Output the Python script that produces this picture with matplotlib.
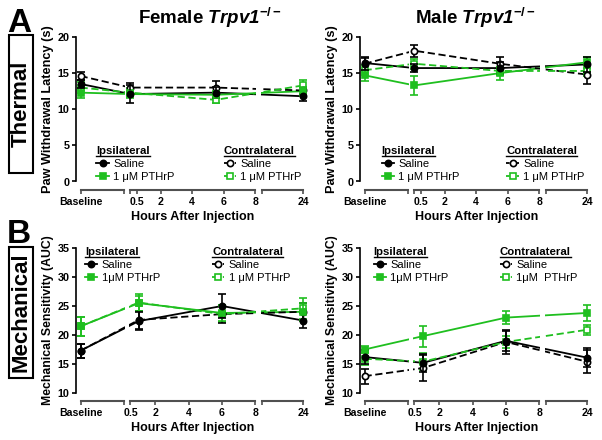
import matplotlib
matplotlib.use('Agg')
import matplotlib.pyplot as plt
from matplotlib.lines import Line2D
from matplotlib.patches import Rectangle
from matplotlib.spines import Spine
from matplotlib.legend import Legend

plt.rcParams['font.family'] = ['Liberation Sans', 'DejaVu Sans']
plt.rcParams['mathtext.fontset'] = 'custom'
plt.rcParams['mathtext.rm'] = 'Liberation Sans:bold'
plt.rcParams['mathtext.bf'] = 'Liberation Sans:bold'
plt.rcParams['mathtext.it'] = 'Liberation Sans:italic:bold'
plt.rcParams['mathtext.bfit'] = 'Liberation Sans:italic:bold'

GREEN = '#1fbf1f'
AXGREY = '#505050'

# time points (h) after injection, besides Baseline and 24 h
thermal_hours = [0.1, 5.5]
mech_hours = [1, 6]
hour_ticks = [0.5, 2, 4, 6, 8]

# Thermal: paw withdrawal latency (s), mean and SEM
# order: Baseline, early, ~6 h, 24 h
f_th_ipsi_sal = [13.5, 12.1, 12.3, 11.8]
f_th_ipsi_sal_e = [0.6, 1.2, 0.8, 0.7]
f_th_ipsi_pth = [12.3, 12.1, 12.0, 12.5]
f_th_ipsi_pth_e = [0.7, 0.6, 0.5, 0.6]
f_th_con_sal = [14.6, 13.0, 13.0, 12.6]
f_th_con_sal_e = [0.5, 0.6, 0.9, 0.5]
f_th_con_pth = [13.0, 12.3, 11.3, 13.3]
f_th_con_pth_e = [0.8, 0.6, 0.5, 0.8]

m_th_ipsi_sal = [16.4, 15.7, 15.7, 16.2]
m_th_ipsi_sal_e = [0.9, 0.6, 0.8, 1.0]
m_th_ipsi_pth = [14.7, 13.3, 15.0, 16.5]
m_th_ipsi_pth_e = [0.8, 1.3, 0.9, 0.8]
m_th_con_sal = [16.3, 18.1, 16.3, 14.8]
m_th_con_sal_e = [0.8, 0.8, 0.9, 1.3]
m_th_con_pth = [15.4, 16.3, 15.3, 15.3]
m_th_con_pth_e = [0.7, 0.7, 0.6, 0.7]

# Mechanical sensitivity (AUC)
f_me_ipsi_sal = [17.3, 22.4, 25.0, 22.5]
f_me_ipsi_sal_e = [1.2, 1.6, 2.0, 1.3]
f_me_ipsi_pth = [21.5, 25.5, 23.8, 24.0]
f_me_ipsi_pth_e = [1.6, 1.3, 1.3, 1.6]
f_me_con_sal = [17.3, 22.6, 23.6, 24.0]
f_me_con_sal_e = [1.2, 1.5, 1.5, 1.5]
f_me_con_pth = [21.5, 25.6, 23.6, 24.6]
f_me_con_pth_e = [1.6, 1.4, 1.4, 1.8]

m_me_ipsi_sal = [16.2, 15.2, 19.0, 16.1]
m_me_ipsi_sal_e = [1.2, 1.5, 1.7, 1.6]
m_me_ipsi_pth = [17.5, 19.8, 23.0, 23.8]
m_me_ipsi_pth_e = [0.6, 1.8, 1.1, 1.3]
m_me_con_sal = [12.9, 14.3, 18.8, 15.4]
m_me_con_sal_e = [1.3, 2.2, 2.0, 2.0]
m_me_con_pth = [15.9, 15.4, 18.8, 20.9]
m_me_con_pth_e = [1.1, 1.5, 1.0, 0.9]

# broken x axis: Baseline | hours | 24
SEG_BASE = (2, 21)
SEG_MID = (24, 79)
SEG_24 = (82, 100)


def xpos(t, h0):
    if t == 'Baseline':
        return SEG_BASE[0]
    if t == 24:
        return SEG_24[1]
    return SEG_MID[0] + (t - h0) / (8 - h0) * (SEG_MID[1] - SEG_MID[0])


STYLES = [  # ipsi saline, ipsi PTHrP, contra saline, contra PTHrP
    dict(color='black', marker='o', ls='-', mfc='black', z=4.6),
    dict(color=GREEN, marker='s', ls='-', mfc=GREEN, z=4.5),
    dict(color='black', marker='o', ls='--', mfc='white', z=4.1),
    dict(color=GREEN, marker='s', ls='--', mfc='white', z=4.0),
]

fig = plt.figure(figsize=(6.02, 4.40), dpi=100)

legends = []


def panel(rect, series, hours, h0, ylim, yticks, ylabel, ylsize, ipsi_lab, con_lab, leg_x, leg_y):
    ax = fig.add_axes(rect)
    t_all = ['Baseline'] + hours + [24]
    xs = [xpos(t, h0) for t in t_all]
    for (vals, err), st in zip(series, STYLES):
        ax.plot(xs, vals, color=st['color'], ls=st['ls'], lw=1.3, zorder=2,
                dashes=(4, 2) if st['ls'] == '--' else (None, None), clip_on=False)
        eb = ax.errorbar(xs, vals, yerr=err, fmt=st['marker'], color=st['color'],
                         mfc=st['mfc'], mec=st['color'], mew=1.2, ms=4.5,
                         capsize=2.8, elinewidth=1.2, capthick=1.2, zorder=st['z'])
        for art in [eb.lines[0], *eb.lines[1], *eb.lines[2]]:
            art.set_clip_on(False)
    # gaps in the lines at the axis breaks
    ax.axvspan(SEG_BASE[1] + 0.4, SEG_MID[0] - 0.8, color='white', lw=0, zorder=3)
    ax.axvspan(SEG_MID[1] + 0.4, SEG_24[0] - 0.4, color='white', lw=0, zorder=3)

    ax.set_xlim(0, 100)
    ax.set_ylim(*ylim)
    ax.set_yticks(yticks)
    for s in ['top', 'right']:
        ax.spines[s].set_visible(False)
    ax.spines['left'].set_linewidth(1.2)
    ax.spines['bottom'].set_position(('outward', 6))
    ax.spines['bottom'].set_visible(False)
    for name, (a, b) in zip(['seg1', 'seg2', 'seg3'], [SEG_BASE, SEG_MID, SEG_24]):
        sp = Spine.linear_spine(ax, 'bottom')
        sp.set_bounds(a, b)
        sp.set_position(('outward', 6))
        sp.set_color(AXGREY)
        sp.set_linewidth(1.5)
        ax.spines[name] = sp

    tick_pos = [xpos('Baseline', h0)] + [xpos(h, h0) for h in hour_ticks] + [xpos(24, h0)]
    tick_lab = ['Baseline'] + [str(h) for h in hour_ticks] + ['24']
    ax.set_xticks(tick_pos, tick_lab)
    ax.set_xticks([SEG_BASE[1], SEG_MID[0], SEG_24[0]], minor=True)
    ax.tick_params(axis='x', which='both', length=3, width=1.2, color=AXGREY,
                   labelsize=7.6, pad=2)
    ax.tick_params(axis='y', length=3, width=1.2, labelsize=7.8, pad=1.5)
    for lab in ax.get_xticklabels() + ax.get_yticklabels():
        lab.set_fontweight('bold')
    ax.set_ylabel(ylabel, fontsize=ylsize, fontweight='bold', labelpad=3)
    ax.set_xlabel('Hours After Injection', fontsize=9, fontweight='bold', labelpad=3,
                  x=(SEG_MID[0] + SEG_MID[1]) / 200)

    for title, labs, idx, lx in [('Ipsilateral', ipsi_lab, (0, 1), leg_x[0]),
                                 ('Contralateral', con_lab, (2, 3), leg_x[1])]:
        handles = []
        for i in idx:
            st = STYLES[i]
            handles.append(Line2D([], [], color=st['color'], ls=st['ls'], lw=1.3,
                                  marker=st['marker'], mfc=st['mfc'], mec=st['color'],
                                  mew=1.2, ms=4.5, dashes=(2, 1) if st['ls'] == '--' else (None, None)))
        leg = Legend(ax, handles, labs, title=title, loc='upper left',
                     bbox_to_anchor=(lx, leg_y), frameon=False, fontsize=8,
                     title_fontproperties={'weight': 'bold', 'size': 8.2},
                     alignment='left', handlelength=1.1, handletextpad=0.4,
                     labelspacing=0.25, borderpad=0, borderaxespad=0)
        leg.set_zorder(6)
        ax.add_artist(leg)
        legends.append(leg)
    return ax


th_bottom, th_h = 1 - 181.5 / 440, 144.5 / 440
me_bottom, me_h = 1 - 393 / 440, 145 / 440
w = 227 / 602

panel([76 / 602, th_bottom, w, th_h],
      [(f_th_ipsi_sal, f_th_ipsi_sal_e), (f_th_ipsi_pth, f_th_ipsi_pth_e),
       (f_th_con_sal, f_th_con_sal_e), (f_th_con_pth, f_th_con_pth_e)],
      thermal_hours, 0.1, (0, 20), [0, 5, 10, 15, 20],
      'Paw Withdrawal Latency (s)', 9.2,
      ['Saline', '1 \u03bcM PTHrP'], ['Saline', '1 \u03bcM PTHrP'],
      (0.09, 0.65), 0.245)
panel([360 / 602, th_bottom, w, th_h],
      [(m_th_ipsi_sal, m_th_ipsi_sal_e), (m_th_ipsi_pth, m_th_ipsi_pth_e),
       (m_th_con_sal, m_th_con_sal_e), (m_th_con_pth, m_th_con_pth_e)],
      thermal_hours, 0.1, (0, 20), [0, 5, 10, 15, 20],
      'Paw Withdrawal Latency (s)', 9.2,
      ['Saline', '1 \u03bcM PTHrP'], ['Saline', '1 \u03bcM PTHrP'],
      (0.095, 0.645), 0.245)
panel([76 / 602, me_bottom, w, me_h],
      [(f_me_ipsi_sal, f_me_ipsi_sal_e), (f_me_ipsi_pth, f_me_ipsi_pth_e),
       (f_me_con_sal, f_me_con_sal_e), (f_me_con_pth, f_me_con_pth_e)],
      mech_hours, 0.5, (10, 35), [10, 15, 20, 25, 30, 35],
      'Mechanical Sensitivity (AUC)', 8.8,
      ['Saline', '1\u03bcM PTHrP'], ['Saline', '1 \u03bcM PTHrP'],
      (0.04, 0.6), 1.005)
panel([360 / 602, me_bottom, w, me_h],
      [(m_me_ipsi_sal, m_me_ipsi_sal_e), (m_me_ipsi_pth, m_me_ipsi_pth_e),
       (m_me_con_sal, m_me_con_sal_e), (m_me_con_pth, m_me_con_pth_e)],
      mech_hours, 0.5, (10, 35), [10, 15, 20, 25, 30, 35],
      'Mechanical Sensitivity (AUC)', 8.8,
      ['Saline', '1\u03bcM PTHrP'], ['Saline', '1\u03bcM  PTHrP'],
      (0.06, 0.615), 1.005)

# column titles
fig.text(210 / 602, 1 - 18 / 440, r'Female $\mathbfit{Trpv1}^{-/-}$', ha='center',
         va='center', fontsize=13.5, fontweight='bold')
fig.text(475 / 602, 1 - 18 / 440, r'Male $\mathbfit{Trpv1}^{-/-}$', ha='center',
         va='center', fontsize=13.5, fontweight='bold')

# panel letters
fig.text(7 / 602, 1 - 32 / 440, 'A', fontsize=24, fontweight='bold', va='baseline')
fig.text(7 / 602, 1 - 243 / 440, 'B', fontsize=24, fontweight='bold', va='baseline')

# row boxes
for (y0, y1), txt in [((35, 173), 'Thermal'), ((247, 378), 'Mechanical')]:
    fig.add_artist(Rectangle((9 / 602, 1 - y1 / 440), 24 / 602, (y1 - y0) / 440,
                             transform=fig.transFigure, fill=False, lw=1.5, ec='black'))
    fig.text(21 / 602, 1 - (y0 + y1) / 2 / 440, txt, rotation=90, ha='center',
             va='center', fontsize=16, fontweight='bold')

# underline the legend headers
fig.canvas.draw()
for leg in legends:
    bb = leg.get_title().get_window_extent()
    fw, fh = fig.bbox.width, fig.bbox.height
    fig.add_artist(Line2D([bb.x0 / fw, bb.x1 / fw], [(bb.y0 + 0.5) / fh] * 2,
                          transform=fig.transFigure, color='black', lw=1.0))

fig.savefig('out.png', dpi=100)
